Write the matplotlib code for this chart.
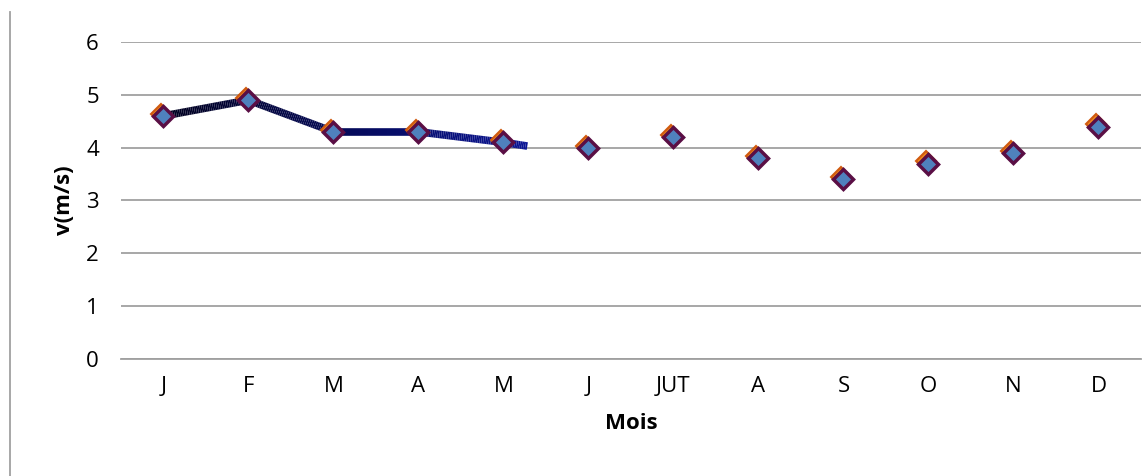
import numpy as np
import matplotlib
matplotlib.use("Agg")
import matplotlib.pyplot as plt
from matplotlib.collections import LineCollection
from matplotlib.lines import Line2D

plt.rcParams['font.family'] = ['Open Sans', 'DejaVu Sans']

months = ['J', 'F', 'M', 'A', 'M', 'J', 'JUT', 'A', 'S', 'O', 'N', 'D']
speed = [4.6, 4.9, 4.3, 4.3, 4.1, 4.0, 4.2, 3.8, 3.4, 3.7, 3.9, 4.4]

# thick trace over the first months, ending a little past May
trace_x = [0, 1, 2, 3, 4, 4.28]
trace_y = [4.6, 4.9, 4.3, 4.3, 4.1, 4.03]

fig = plt.figure(figsize=(11.48, 4.76), dpi=100)
ax = fig.add_axes([0.1054, 0.2458, 0.8885, 0.666])

x = np.arange(len(months)) + 0.5

# gradient line: near-black to blue
tx = np.array(trace_x) + 0.5
ty = np.array(trace_y)
fine_x = np.linspace(tx[0], tx[-1], 200)
fine_y = np.interp(fine_x, tx, ty)
pts = np.column_stack([fine_x, fine_y]).reshape(-1, 1, 2)
segs = np.concatenate([pts[:-1], pts[1:]], axis=1)
t = np.linspace(0, 1, len(segs))
c0 = np.array([0.0, 0.0, 0.12])
c1 = np.array([0.04, 0.08, 0.58])
cols = [tuple(c0 + (c1 - c0) * v) for v in t]
lc = LineCollection(segs, colors=cols, linewidths=5.5, capstyle='butt', zorder=3)
ax.add_collection(lc)

# diamond markers: orange highlight behind, dark purple rim, blue fill
ax.plot(x - 0.03, np.array(speed) + 0.04, linestyle='none', marker='D', markersize=10.5,
        markerfacecolor='#f08a1c', markeredgecolor='#d05a10', markeredgewidth=1.5, zorder=4)
ax.plot(x, speed, linestyle='none', marker='D', markersize=10.5,
        markerfacecolor='#4f81bd', markeredgecolor='#5a0f45', markeredgewidth=2.5, zorder=5)

ax.set_xlim(0, 12)
ax.set_ylim(0, 6)
ax.set_xticks(x)
ax.set_xticklabels(months)
ax.set_yticks(range(0, 7))
ax.yaxis.grid(True, color='#a0a0a0', linewidth=1.3)
ax.set_axisbelow(True)
for s in ['top', 'right', 'left']:
    ax.spines[s].set_visible(False)
ax.spines['bottom'].set_color('#a0a0a0')
ax.spines['bottom'].set_linewidth(1.3)
ax.tick_params(axis='both', length=0, labelsize=16)
ax.tick_params(axis='y', pad=16)
ax.tick_params(axis='x', pad=12)

ax.set_xlabel('Mois', fontsize=16, fontweight='bold', labelpad=12)
ax.set_ylabel('v(m/s)', fontsize=16, fontweight='bold', labelpad=8)

# chart-area border on the left
fig.add_artist(Line2D([10 / 1148, 10 / 1148], [0, 1 - 12 / 476],
                      transform=fig.transFigure, color='#a0a0a0', linewidth=1.3))

fig.savefig('out.png', dpi=100)
